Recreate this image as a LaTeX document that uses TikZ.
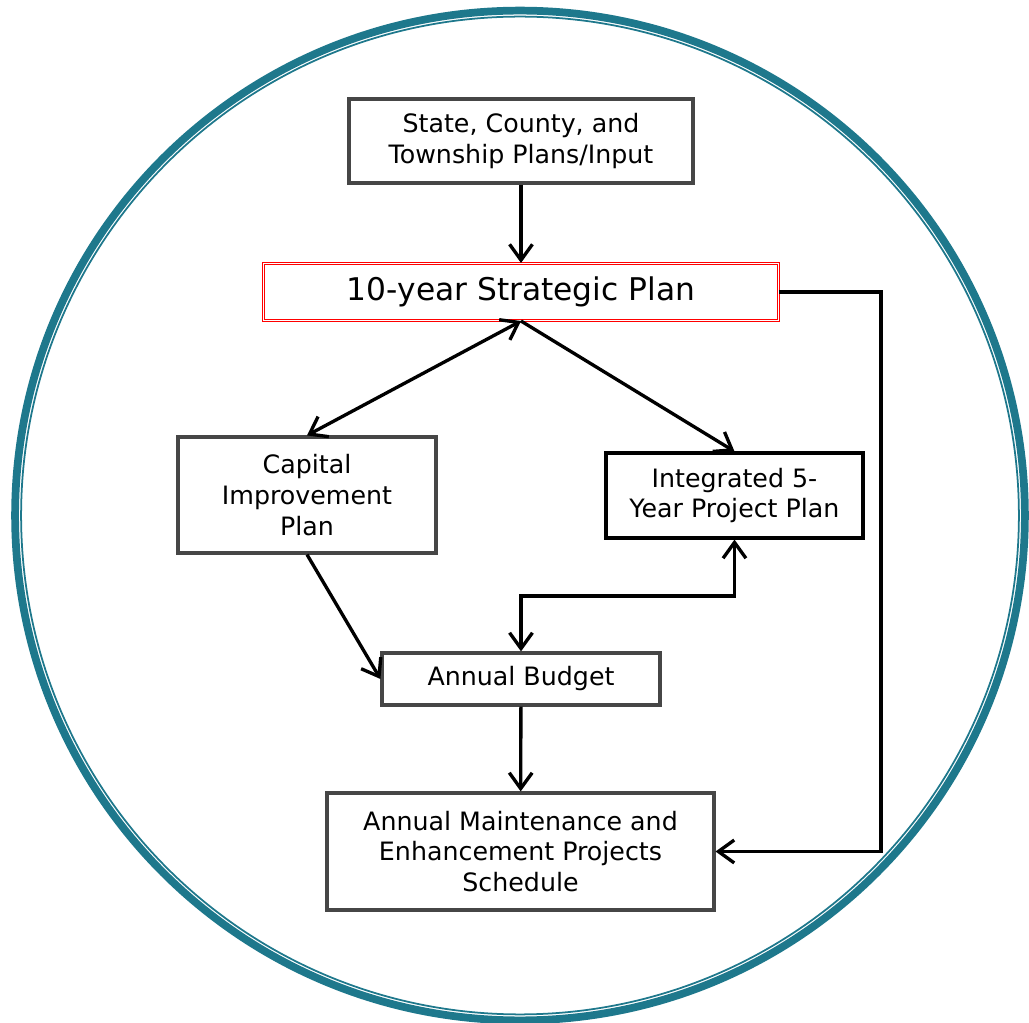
\documentclass[tikz,border=0pt]{standalone}
\usepackage{fontspec}
\setmainfont{DejaVu Sans}
\usetikzlibrary{arrows.meta,positioning,calc}
\definecolor{ringteal}{RGB}{30,120,140}
\definecolor{boxgray}{RGB}{70,70,70}

\begin{document}
\begin{tikzpicture}[x=0.02cm,y=-0.02cm,>={Straight Barb[length=9pt,width=13pt]},
  box/.style={draw=boxgray,line width=1.8pt,inner sep=0pt,align=center,font=\fontsize{14.4}{17.6}\selectfont},
  link/.style={line width=1.9pt,black}]
\useasboundingbox (0,0) rectangle (1029,1023);
\draw[ringteal,line width=4.4pt] (520,515.5) circle [radius=10.1cm];
\draw[ringteal,line width=1pt] (520,515.5) circle [radius=9.98cm];

\node[box,minimum width=6.88cm,minimum height=1.68cm] (state) at (521,141) {State, County, and\\Township Plans/Input};
\node[box,draw=red,double=white,line width=0.6pt,double distance=0.6pt,minimum width=10.3cm,minimum height=1.14cm,font=\fontsize{17.8}{22}\selectfont] (strat) at (521,292) {10-year Strategic Plan};
\node[box,minimum width=5.16cm,minimum height=2.32cm] (cap) at (307,495) {Capital\\Improvement\\Plan};
\node[box,draw=black,minimum width=5.14cm,minimum height=1.7cm] (integ) at (734.5,495.5) {Integrated 5-\\Year Project Plan};
\node[box,minimum width=5.56cm,minimum height=1.04cm] (budget) at (521,679) {Annual Budget};
\node[box,minimum width=7.74cm,minimum height=2.34cm] (maint) at (520.5,851.5) {Annual Maintenance and\\Enhancement Projects\\Schedule};

\coordinate (split) at (734.5,596);
\draw[link,->] (state) -- (strat);
\draw[link,<->] (strat.south) -- (cap.north);
\draw[link,->] (strat.south) -- (integ.north);
\draw[link,->] (cap.south) -- (budget.west);
\draw[link,<->] (integ.south) -- (split) -| (budget.north);
\draw[link,->] (budget) -- (maint);
\draw[link,->] (strat.east) -- ++(102,0) |- (maint.east);
\end{tikzpicture}
\end{document}
